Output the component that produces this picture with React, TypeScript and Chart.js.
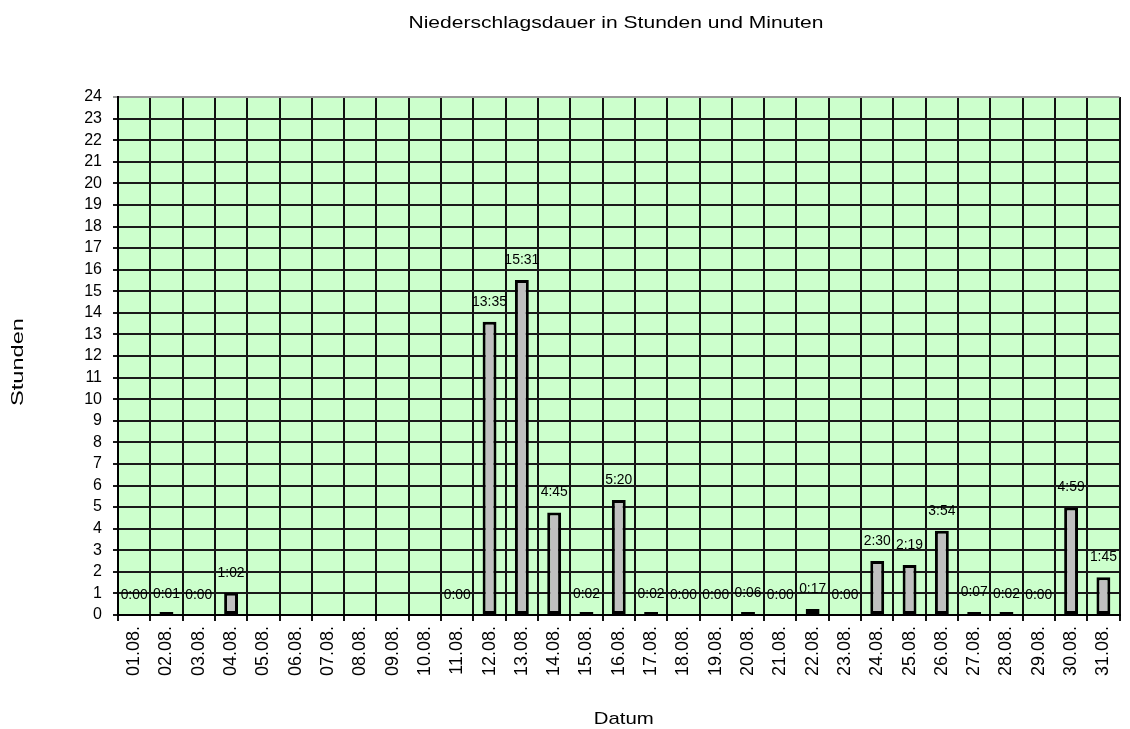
import React, { useEffect, useRef } from "react";
import { Chart, registerables } from "chart.js";

Chart.register(...registerables);

const chartTitle = "Niederschlagsdauer in Stunden und Minuten";
const yAxisTitle = "Stunden";
const xAxisTitle = "Datum";

const categories = [
  "01.08.", "02.08.", "03.08.", "04.08.", "05.08.", "06.08.", "07.08.", "08.08.",
  "09.08.", "10.08.", "11.08.", "12.08.", "13.08.", "14.08.", "15.08.", "16.08.",
  "17.08.", "18.08.", "19.08.", "20.08.", "21.08.", "22.08.", "23.08.", "24.08.",
  "25.08.", "26.08.", "27.08.", "28.08.", "29.08.", "30.08.", "31.08.",
];

// precipitation duration per day (h:mm), null = no data
const durations: (string | null)[] = [
  "0:00", "0:01", "0:00", "1:02", null, null, null, null,
  null, null, "0:00", "13:35", "15:31", "4:45", "0:02", "5:20",
  "0:02", "0:00", "0:00", "0:06", "0:00", "0:17", "0:00", "2:30",
  "2:19", "3:54", "0:07", "0:02", "0:00", "4:59", "1:45",
];

const yMin = 0;
const yMax = 24;
const yStep = 1;

const hours = durations.map((d) => {
  if (d === null) return null;
  const [h, m] = d.split(":");
  return parseInt(h, 10) + parseInt(m, 10) / 60;
});

const FONT = "'Liberation Sans', Arial, sans-serif";

function drawStretched(
  ctx: CanvasRenderingContext2D,
  text: string,
  x: number,
  y: number,
  font: string,
  target: number
) {
  ctx.save();
  ctx.font = font;
  const w = ctx.measureText(text).width;
  const sx = w > 0 ? target / w : 1;
  ctx.translate(x, y);
  ctx.scale(sx, 1);
  ctx.fillText(text, 0, 0);
  ctx.restore();
}

const decor = {
  id: "decor",
  beforeDraw(chart: any) {
    const { ctx, chartArea: a } = chart;
    ctx.save();
    ctx.fillStyle = "#CCFFCC";
    ctx.fillRect(a.left, a.top, a.right - a.left, a.bottom - a.top);
    ctx.restore();
  },
  afterDatasetsDraw(chart: any) {
    const { ctx } = chart;
    const meta = chart.getDatasetMeta(0);
    const yScale = chart.scales.y;
    ctx.save();
    ctx.fillStyle = "#000";
    ctx.textAlign = "center";
    ctx.textBaseline = "middle";
    durations.forEach((d, i) => {
      if (d === null) return;
      const el = meta.data[i];
      const v = hours[i] as number;
      const y = yScale.getPixelForValue(v) - 20;
      drawStretched(ctx, d, el.x, y, `14px ${FONT}`, d.length > 4 ? 35 : 27);
    });
    ctx.restore();
  },
  afterDraw(chart: any) {
    const { ctx, chartArea: a } = chart;
    ctx.save();
    ctx.fillStyle = "#000";
    ctx.textAlign = "center";
    ctx.textBaseline = "alphabetic";
    drawStretched(ctx, chartTitle, 616, 28, `17px ${FONT}`, 415);
    drawStretched(ctx, xAxisTitle, (a.left + a.right) / 2 + 5, 724, `17px ${FONT}`, 60);
    ctx.translate(18, 362);
    ctx.rotate(-Math.PI / 2);
    ctx.textBaseline = "middle";
    drawStretched(ctx, yAxisTitle, 0, 0, `17px ${FONT}`, 88);
    ctx.restore();
  },
};

export default function App() {
  const ref = useRef<HTMLCanvasElement | null>(null);

  useEffect(() => {
    if (!ref.current) return;
    const chart = new Chart(ref.current, {
      type: "bar",
      data: {
        labels: categories,
        datasets: [
          {
            data: hours as any,
            backgroundColor: (c: any) =>
              c.raw === 0 ? "rgba(0,0,0,0)" : "#C0C0C0",
            borderColor: (c: any) => (c.raw === 0 ? "rgba(0,0,0,0)" : "#000"),
            borderWidth: 3,
            borderSkipped: false,
            minBarLength: 3,
            barPercentage: 0.43,
            categoryPercentage: 1,
          },
        ],
      },
      options: {
        responsive: false,
        animation: false,
        layout: { padding: { top: 97, right: 0, bottom: 0, left: 0 } },
        plugins: {
          legend: { display: false },
          title: { display: false },
          tooltip: { enabled: false },
        },
        scales: {
          x: {
            offset: true,
            grid: {
              offset: true,
              color: "#111",
              lineWidth: 2,
              tickLength: 6,
              drawTicks: true,
            },
            border: { color: "#000", width: 2 },
            ticks: {
              autoSkip: false,
              minRotation: 90,
              maxRotation: 90,
              padding: 5,
              color: "#000",
              font: { family: FONT, size: 18 },
            },
            afterFit: (s: any) => {
              s.height = 114;
            },
          },
          y: {
            min: yMin,
            max: yMax,
            grid: {
              color: (c: any) => (c.tick && c.tick.value === yMax ? "#999" : "#1a1a1a"),
              lineWidth: 2,
              tickLength: 5,
            },
            border: { color: "#000", width: 2 },
            ticks: {
              stepSize: yStep,
              autoSkip: false,
              padding: 11,
              color: "#000",
              font: { family: FONT, size: 16 },
            },
            afterFit: (s: any) => {
              s.width = 118;
            },
          },
        },
      },
      plugins: [decor],
    });
    return () => chart.destroy();
  }, []);

  return (
    <div style={{ position: "absolute", left: 0, top: 0, width: 1130, height: 729, background: "#fff" }}>
      <canvas ref={ref} width={1130} height={729} style={{ display: "block" }} />
    </div>
  );
}
